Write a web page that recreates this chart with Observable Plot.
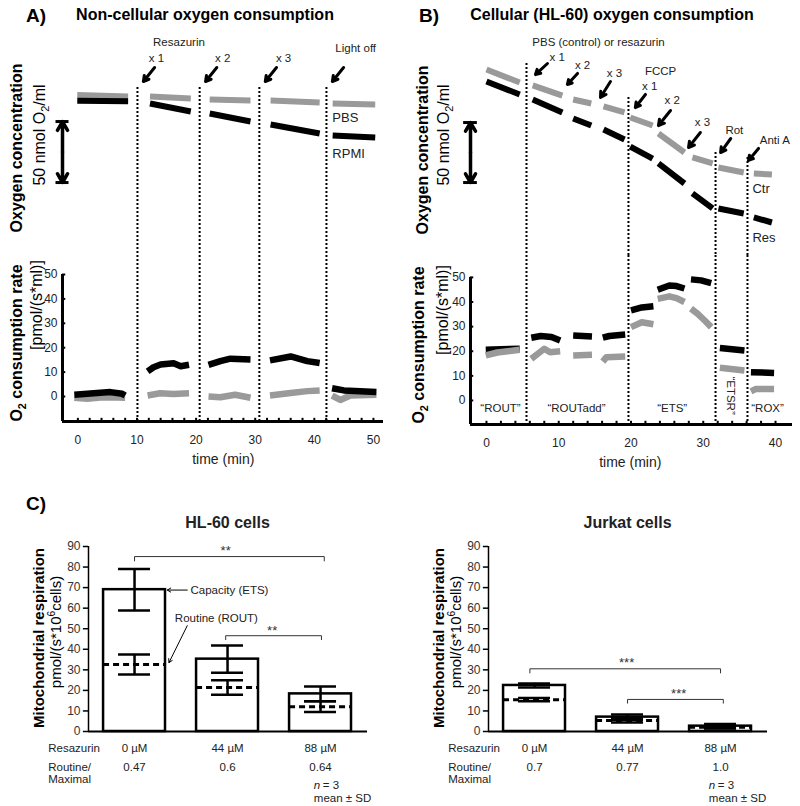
<!DOCTYPE html>
<html><head><meta charset="utf-8">
<script src="https://cdn.jsdelivr.net/npm/d3@7"></script>
<script src="https://cdn.jsdelivr.net/npm/@observablehq/plot@0.6"></script>
<style>
body{margin:0;background:#fff;font-family:"Liberation Sans",Arial,Helvetica,sans-serif;}
#fig{position:relative;width:800px;height:806px;overflow:hidden;background:#fff;}
.lbl{position:absolute;white-space:nowrap;transform:translate(-50%,-50%);color:#000;line-height:1;}
.lbl.rot{transform:translate(-50%,-50%) rotate(-90deg);}
.lbl sub,.lbl sup{font-size:0.68em;line-height:0;}
</style></head><body><div id="fig"></div>
<script>
// ---------------- DATA ----------------
// Panel A: non-cellular (time in min, O2 in nmol/ml, rate in pmol/(s*ml)); rows: [segment, time, value]
const aDotTimes = [10.08, 20.6, 30.7, 42.05];
const aConcPBS = [
  [1,-0.1,189.6],[1,8.5,188.4],
  [2,12.2,188.3],[2,19.1,186.7],
  [3,22.3,185.9],[3,29.2,185.0],
  [4,32.6,185.0],[4,40.9,183.4],
  [5,43.1,182.6],[5,50.3,181.8]];
const aConcRPMI = [
  [1,-0.1,184.8],[1,8.5,184.4],
  [2,12.2,182.6],[2,19.1,176.0],
  [3,22.3,174.4],[3,29.2,167.8],
  [4,32.6,165.4],[4,40.9,158.0],
  [5,43.1,156.4],[5,50.3,154.7]];
const aRatePBS = [
  [1,-0.6,-0.5],[1,1.6,-0.9],[1,3.8,-0.4],[1,5.5,-0.3],[1,8.0,-0.5],
  [2,11.8,0.4],[2,13.9,1.3],[2,16.2,1.0],[2,18.8,1.3],
  [3,22.1,0.0],[3,24.1,-0.3],[3,26.6,0.7],[3,29.2,-0.5],
  [4,32.5,0.4],[4,36.0,1.4],[4,38.8,2.2],[4,40.9,2.5],
  [5,43.0,0.4],[5,44.4,-1.4],[5,46.1,0.4],[5,50.5,0.7]];
const aRateRPMI = [
  [1,-0.6,0.7],[1,1.6,1.1],[1,3.8,1.5],[1,5.5,1.8],[1,7.5,1.1],[1,8.0,0.4],
  [2,11.8,10.3],[2,12.8,12.0],[2,14.0,13.1],[2,16.2,13.6],[2,17.4,12.4],[2,18.8,13.0],
  [3,22.1,13.0],[3,24.1,14.5],[3,25.8,15.5],[3,29.2,15.2],
  [4,32.5,14.8],[4,36.0,16.4],[4,38.8,14.5],[4,40.9,13.7],
  [5,43.0,3.4],[5,45.0,2.5],[5,50.5,1.8]];
const aTimeTicks = [0,10,20,30,40,50];
const aMinorTicks = [0,2,4,6,8,10,12,14,16,18,20,22,24,26,28,30,32,34,36,38,40,42,44,46,48,50];
const aAddLabels = [["x 1",13.3],["x 2",24.5],["x 3",34.8]];

// Panel B: HL-60 cells
const bDotTimes = [5.54, 19.65, 31.7, 36.12];
const bDotTops = [197.5, 169.2, 123.3, 119.2];
const bConcCtr = [
  [1,0,192.5],[1,4.6,181.7],[2,6.4,179.2],[2,10.5,170.8],
  [3,12.0,167.5],[3,14.5,164.2],[4,16.2,161.7],[4,19.1,156.7],
  [5,19.9,152.5],[5,23.0,145.8],[6,23.8,139.2],[6,27.4,123.3],
  [7,28.5,119.2],[7,31.3,114.2],[8,32.1,110.8],[8,35.6,106.7],
  [9,37.0,105.8],[9,39.5,105.0]];
const bConcRes = [
  [1,0,182.5],[1,4.6,171.7],[2,6.4,167.5],[2,10.5,156.7],
  [3,12.0,151.7],[3,14.5,145.8],[4,16.2,142.5],[4,19.1,134.2],
  [5,19.9,128.3],[5,23.0,118.3],[6,23.8,114.2],[6,27.4,97.5],
  [7,28.5,89.2],[7,31.3,76.7],[8,32.1,76.7],[8,35.6,72.5],
  [9,37.0,69.2],[9,39.5,65.0]];
const bRateCtr = [
  [1,-0.1,18.3],[1,1.5,19.5],[1,4.6,20.6],
  [2,6.2,16.9],[2,6.8,18.3],[2,8.0,21.0],[2,8.8,19.6],[2,10.2,20.0],
  [3,12.0,18.3],[3,14.6,18.6],
  [4,16.1,15.8],[4,16.6,17.6],[4,19.2,17.9],
  [5,20.0,29.8],[5,21.5,31.8],[5,23.1,31.0],
  [6,23.7,41.3],[6,25.3,42.3],[6,26.3,41.6],[6,27.4,40.0],
  [7,28.3,37.3],[7,29.2,35.3],[7,30.2,32.5],[7,31.1,29.8],
  [8,32.3,13.3],[8,35.7,12.2],
  [9,36.6,3.7],[9,37.3,4.7],[9,39.8,4.7]];
const bRateRes = [
  [1,-0.1,20.6],[1,2.0,20.8],[1,4.6,21.0],
  [2,6.2,25.5],[2,7.5,26.2],[2,9.0,25.8],[2,10.2,24.4],
  [3,12.0,26.4],[3,14.6,26.0],
  [4,16.1,25.5],[4,17.0,26.2],[4,19.2,26.8],
  [5,20.0,36.6],[5,21.5,37.8],[5,23.1,38.3],
  [6,23.7,45.0],[6,25.3,46.7],[6,26.3,46.5],[6,27.4,45.5],
  [7,28.3,49.2],[7,29.7,48.8],[7,31.1,47.7],
  [8,32.3,21.3],[8,35.7,20.3],
  [9,36.6,11.5],[9,39.8,11.2]];
const bTimeTicks = [0,10,20,30,40];
const bMinorTicks = [0,2,4,6,8,10,12,14,16,18,20,22,24,26,28,30,32,34,36,38,40];
// arrows: [tailTime, tailO2, tipTime, tipO2]
const bArrows = [
  [8.44,197.5,6.78,188.3],[12.6,189.2,11.2,180.0],[17.16,182.5,15.78,169.2],
  [22.0,171.7,20.6,160.8],[25.47,158.3,23.8,145.8],[29.6,140.0,27.96,127.5],
  [33.8,135.0,32.4,123.3],[37.65,126.7,36.26,116.7]];
const bLabels = [
  ["PBS (control) or resazurin",15.5,215],
  ["x 1",9.8,202.5],["x 2",13.3,195.8],["x 3",17.7,189.2],
  ["FCCP",24.1,190.8],["x 1",22.6,178.3],["x 2",25.7,166.7],["x 3",29.9,148.3],
  ["Rot",34.3,141.7],["Anti A",39.9,133.3]];
const bRegions = [["\u201cROUT\u201d",1.94],["\u201cROUTadd\u201d",12.46],["\u201cETS\u201d",25.7],["\u201cROX\u201d",38.9]];

const rateTicks = [0,10,20,30,40,50];

// Panel C: mitochondrial respiration pmol/(s*10^6 cells)
const cDoses = ["0 \u00b5M","44 \u00b5M","88 \u00b5M"];
const cTicks = [0,10,20,30,40,50,60,70,80,90];
const hlETS = [69.0, 35.2, 18.3];
const hlETSsd = [10.1, 6.6, 3.6];
const hlROUT = [32.6, 21.4, 12.1];
const hlROUTsd = [4.9, 3.5, 2.6];
const hlRatio = ["0.47","0.6","0.64"];
const hlBrackets = [[0, 2.04, 85.1, 83.0],[0.98, 2.01, 46.6, 44.7]];
const hlStars = [["**",0.98,88.0],["**",1.48,49.1]];
const juETS = [22.4, 7.0, 2.6];
const juETSsd = [1.0, 1.3, 1.0];
const juROUT = [15.5, 5.4, 2.1];
const juROUTsd = [0.8, 1.0, 0.6];
const juRatio = ["0.7","0.77","1.0"];
const juBrackets = [[-0.05, 2.0, 30.5, 28.5],[1.0, 2.03, 15.6, 13.8]];
const juStars = [["***",0.99,33.2],["***",1.55,18.3]];

// ---------------- HELPERS ----------------
const FONT = '"Liberation Sans", Arial, Helvetica, sans-serif';
const fig = document.getElementById("fig");
const rows = arr => arr.map(([s,t,v]) => ({s,t,v}));
function put(node, left, top, w, h){
  const d = document.createElement("div");
  d.style.cssText = `position:absolute;left:${left}px;top:${top}px;width:${w}px;height:${h}px;`;
  d.appendChild(node); fig.appendChild(d);
}
function label(html, cx, cy, size, bold, rot){
  const d = document.createElement("div");
  d.className = "lbl" + (rot ? " rot" : "");
  d.style.left = cx + "px"; d.style.top = cy + "px";
  d.style.fontSize = size + "px"; d.style.fontWeight = bold ? "bold" : "normal";
  d.innerHTML = html; fig.appendChild(d);
}
const baseStyle = {fontFamily: FONT, overflow: "visible", background: "transparent", color: "#000"};
const DOT = {stroke:"#000", strokeWidth:2, strokeDasharray:"2,2"};
const GRAY = "#9a9a9a";
const RW = 6.5;

// ---------------- PANEL A ----------------
const AX0 = -2.6, AX1 = 51.7;
const aTop = Plot.plot({
  width:400, height:255, marginLeft:62, marginRight:17, marginTop:87, marginBottom:0,
  x:{domain:[AX0,AX1], axis:null}, y:{domain:[58,195.7], axis:null}, style: baseStyle,
  marks:[
    Plot.ruleX(aDotTimes, {x:d=>d, ...DOT}),
    Plot.line(rows(aConcPBS), {x:"t", y:"v", z:"s", stroke:GRAY, strokeWidth:6, strokeLinecap:"butt"}),
    Plot.line(rows(aConcRPMI), {x:"t", y:"v", z:"s", stroke:"#000", strokeWidth:6, strokeLinecap:"butt"}),
    Plot.arrow([{a:142.8,b:167.8},{a:142.8,b:117.8}], {x1:AX0, x2:AX0, y1:"a", y2:"b", stroke:"#000", strokeWidth:3.5, headLength:11}),
    Plot.ruleY([167.8,117.8], {y:d=>d, x1:AX0-1.1, x2:AX0+1.1, stroke:"#000", strokeWidth:3}),
    Plot.arrow(aDotTimes, {x1:d=>d+2.9, y1:212.1, x2:d=>d+1.0, y2:200.6, stroke:"#000", strokeWidth:3, headLength:9}),
    Plot.text(["Resazurin"], {x:17.1, y:232.6, text:d=>d, fontSize:11.5, fill:"#222"}),
    Plot.text(aAddLabels, {x:d=>d[1], y:219.5, text:d=>d[0], fontSize:11.5, fill:"#222"}),
    Plot.text(["Light off"], {x:47.0, y:227.7, text:d=>d, fontSize:11.5, fill:"#222"}),
    Plot.text(["PBS"], {x:43.05, y:171.1, text:d=>d, fontSize:13, textAnchor:"start", fill:"#222"}),
    Plot.text(["RPMI"], {x:43.05, y:141.6, text:d=>d, fontSize:13, textAnchor:"start", fill:"#222"})
  ]
});
put(aTop, 0, 0, 400, 255);

const AY0 = -10.25;
const aRate = Plot.plot({
  width:400, height:215, marginLeft:62, marginRight:17, marginTop:0, marginBottom:49,
  x:{domain:[AX0,AX1], axis:null}, y:{domain:[AY0,57.8], axis:null}, style: baseStyle,
  marks:[
    Plot.ruleX(aDotTimes, {x:d=>d, ...DOT}),
    Plot.ruleX([AX0], {x:d=>d, y1:AY0, y2:50, stroke:"#000", strokeWidth:3}),
    Plot.ruleY([AY0], {y:d=>d, x1:AX0, x2:AX1, stroke:"#000", strokeWidth:3}),
    Plot.ruleY(rateTicks, {y:d=>d, x1:AX0, x2:AX0+0.55, stroke:"#000", strokeWidth:2}),
    Plot.ruleX(aMinorTicks, {x:d=>d, y1:AY0, y2:AY0+1.3, stroke:"#000", strokeWidth:2}),
    Plot.text(rateTicks, {x:AX0, y:d=>d, dx:-5, text:d=>String(d), textAnchor:"end", fontSize:12, fill:"#222"}),
    Plot.text(aTimeTicks, {x:d=>d, y:AY0, dy:19, text:d=>String(d), fontSize:12, fill:"#222"}),
    Plot.text(["time (min)"], {x:24.6, y:AY0, dy:38, text:d=>d, fontSize:14, fill:"#222"}),
    Plot.line(rows(aRatePBS), {x:"t", y:"v", z:"s", stroke:GRAY, strokeWidth:RW, strokeLinecap:"butt"}),
    Plot.line(rows(aRateRPMI), {x:"t", y:"v", z:"s", stroke:"#000", strokeWidth:RW, strokeLinecap:"butt"})
  ]
});
put(aRate, 0, 255, 400, 215);

// ---------------- PANEL B ----------------
const BX0 = -2.21, BX1 = 42.35;
const bTop = Plot.plot({
  width:400, height:255, marginLeft:70, marginRight:8, marginTop:60, marginBottom:0,
  x:{domain:[BX0,BX1], axis:null}, y:{domain:[37.5,200], axis:null}, style: baseStyle,
  marks:[
    Plot.ruleX(bDotTimes, {x:d=>d, y1:(d,i)=>bDotTops[i], y2:37.5, ...DOT}),
    Plot.line(rows(bConcCtr), {x:"t", y:"v", z:"s", stroke:GRAY, strokeWidth:6, strokeLinecap:"butt"}),
    Plot.line(rows(bConcRes), {x:"t", y:"v", z:"s", stroke:"#000", strokeWidth:6, strokeLinecap:"butt"}),
    Plot.arrow([{a:123.3,b:148.3},{a:123.3,b:98.3}], {x1:BX0, x2:BX0, y1:"a", y2:"b", stroke:"#000", strokeWidth:3.5, headLength:11}),
    Plot.ruleY([148.3,98.3], {y:d=>d, x1:BX0-0.95, x2:BX0+0.95, stroke:"#000", strokeWidth:3}),
    Plot.arrow(bArrows, {x1:d=>d[0], y1:d=>d[1], x2:d=>d[2], y2:d=>d[3], stroke:"#000", strokeWidth:3, headLength:9}),
    Plot.text(bLabels, {x:d=>d[1], y:d=>d[2], text:d=>d[0], fontSize:11.5, fill:"#222"}),
    Plot.text(["Ctr"], {x:36.8, y:93.3, text:d=>d, fontSize:13, textAnchor:"start", fill:"#222"}),
    Plot.text(["Res"], {x:36.8, y:52.5, text:d=>d, fontSize:13, textAnchor:"start", fill:"#222"})
  ]
});
put(bTop, 400, 0, 400, 255);

const BY0 = -9.76;
const bRate = Plot.plot({
  width:400, height:215, marginLeft:70, marginRight:8, marginTop:0, marginBottom:46,
  x:{domain:[BX0,BX1], axis:null}, y:{domain:[BY0,58.9], axis:null}, style: baseStyle,
  marks:[
    Plot.ruleX(bDotTimes, {x:d=>d, ...DOT}),
    Plot.ruleX([BX0], {x:d=>d, y1:BY0, y2:50, stroke:"#000", strokeWidth:3}),
    Plot.ruleY([BY0], {y:d=>d, x1:BX0, x2:BX1, stroke:"#000", strokeWidth:3}),
    Plot.ruleY(rateTicks, {y:d=>d, x1:BX0, x2:BX0+0.45, stroke:"#000", strokeWidth:2}),
    Plot.ruleX(bMinorTicks, {x:d=>d, y1:BY0, y2:BY0+1.3, stroke:"#000", strokeWidth:2}),
    Plot.text(rateTicks, {x:BX0, y:d=>d, dx:-5, text:d=>String(d), textAnchor:"end", fontSize:12, fill:"#222"}),
    Plot.text(bTimeTicks, {x:d=>d, y:BY0, dy:19, text:d=>String(d), fontSize:12, fill:"#222"}),
    Plot.text(["time (min)"], {x:19.9, y:BY0, dy:38, text:d=>d, fontSize:14, fill:"#222"}),
    Plot.line(rows(bRateRes), {x:"t", y:"v", z:"s", stroke:"#000", strokeWidth:RW, strokeLinecap:"butt"}),
    Plot.line(rows(bRateCtr), {x:"t", y:"v", z:"s", stroke:GRAY, strokeWidth:RW, strokeLinecap:"butt"}),
    Plot.text(bRegions, {x:d=>d[1], y:-3.25, text:d=>d[0], fontSize:11.5, fill:"#222"}),
    Plot.text(["\u201cETSR\u201d"], {x:33.8, y:2.0, text:d=>d, rotate:90, fontSize:11.5, fill:"#222"})
  ]
});
put(bRate, 400, 255, 400, 215);

// ---------------- PANEL C ----------------
function cPanel(cfg){
  const X0 = -0.495, X1 = 2.505, HW = 0.333, CW = 0.172;
  const data = [0,1,2].map(i => ({i, ets:cfg.ets[i], esd:cfg.etsSd[i], rout:cfg.rout[i], rsd:cfg.routSd[i], dose:cDoses[i], ratio:cfg.ratio[i]}));
  const caps = data.flatMap(d => [
    {i:d.i, y:d.ets-d.esd},{i:d.i, y:d.ets+d.esd},{i:d.i, y:d.rout-d.rsd},{i:d.i, y:d.rout+d.rsd}]);
  const br = cfg.brackets.flatMap((b,k) => [{k,x:b[0],y:b[3]},{k,x:b[0],y:b[2]},{k,x:b[1],y:b[2]},{k,x:b[1],y:b[3]}]);
  return Plot.plot({
    width:400, height:326, marginLeft:88, marginRight:33, marginTop:66, marginBottom:75,
    x:{domain:[X0,X1], axis:null}, y:{domain:[0,90], axis:null}, style: baseStyle,
    marks:[
      Plot.rect(data, {x1:d=>d.i-HW, x2:d=>d.i+HW, y1:0, y2:"ets", fill:"#fff", stroke:"#000", strokeWidth:2.5}),
      Plot.ruleX(data, {x:"i", y1:d=>d.ets-d.esd, y2:d=>d.ets+d.esd, stroke:"#000", strokeWidth:2.5}),
      Plot.ruleX(data, {x:"i", y1:d=>d.rout-d.rsd, y2:d=>d.rout+d.rsd, stroke:"#000", strokeWidth:2.5}),
      Plot.ruleY(caps, {y:"y", x1:d=>d.i-CW, x2:d=>d.i+CW, stroke:"#000", strokeWidth:2.5}),
      Plot.ruleY(data, {y:"rout", x1:d=>d.i-HW, x2:d=>d.i+HW, stroke:"#000", strokeWidth:3, strokeDasharray:"6,4"}),
      Plot.ruleX([X0], {x:d=>d, y1:0, y2:90, stroke:"#000", strokeWidth:1.5}),
      Plot.ruleY([0], {y:d=>d, x1:X0, x2:X1, stroke:"#000", strokeWidth:2}),
      Plot.ruleY(cTicks, {y:d=>d, x1:X0-0.055, x2:X0, stroke:"#000", strokeWidth:1.5}),
      Plot.text(cTicks, {x:X0, y:d=>d, dx:-8, text:d=>String(d), textAnchor:"end", fontSize:12, fill:"#333"}),
      Plot.line(br, {x:"x", y:"y", z:"k", stroke:"#333", strokeWidth:1}),
      Plot.text(cfg.stars, {x:d=>d[1], y:d=>d[2], text:d=>d[0], fontSize:13, fill:"#333"}),
      Plot.text([cfg.title], {x:1.0, y:101.7, text:d=>d, fontSize:16, fontWeight:"bold", fill:"#222"}),
      Plot.text(["Resazurin"], {x:-0.928, y:-8.4, text:d=>d, textAnchor:"start", fontSize:11.5, fill:"#222"}),
      Plot.text(data, {x:"i", y:-8.4, text:"dose", fontSize:11.5, fill:"#222"}),
      Plot.text(["Routine/"], {x:-0.928, y:-17.4, text:d=>d, textAnchor:"start", fontSize:11.5, fill:"#222"}),
      Plot.text(["Maximal"], {x:-0.928, y:-23.5, text:d=>d, textAnchor:"start", fontSize:11.5, fill:"#222"}),
      Plot.text(data, {x:"i", y:-17.4, text:"ratio", fontSize:11.5, fill:"#222"}),
      Plot.text(["n"], {x:cfg.nX, y:-26.3, text:d=>d, textAnchor:"start", fontStyle:"italic", fontSize:11.5, fill:"#222"}),
      Plot.text(["= 3"], {x:cfg.nX, y:-26.3, dx:9, text:d=>d, textAnchor:"start", fontSize:11.5, fill:"#222"}),
      Plot.text(["mean \u00b1 SD"], {x:cfg.nX, y:-32.7, text:d=>d, textAnchor:"start", fontSize:11.5, fill:"#222"}),
      ...(cfg.extra || [])
    ]
  });
}
const hlExtra = [
  Plot.arrow([0], {x1:0.567, y1:68.8, x2:0.352, y2:68.8, stroke:"#000", strokeWidth:1, headLength:6}),
  Plot.text(["Capacity (ETS)"], {x:0.58, y:68.6, dx:2, text:d=>d, textAnchor:"start", fontSize:11.5, fill:"#222"}),
  Plot.arrow([0], {x1:0.567, y1:51.5, x2:0.37, y2:33.5, stroke:"#000", strokeWidth:1, headLength:6}),
  Plot.text(["Routine (ROUT)"], {x:0.88, y:55.0, text:d=>d, fontSize:11.5, fill:"#222"})
];
put(cPanel({title:"HL-60 cells", ets:hlETS, etsSd:hlETSsd, rout:hlROUT, routSd:hlROUTsd, ratio:hlRatio,
  brackets:hlBrackets, stars:hlStars, nX:1.928, extra:hlExtra}), 0, 480, 400, 326);
put(cPanel({title:"Jurkat cells", ets:juETS, etsSd:juETSsd, rout:juROUT, routSd:juROUTsd, ratio:juRatio,
  brackets:juBrackets, stars:juStars, nX:1.874}), 400, 480, 400, 326);

// ---------------- HTML TEXT ----------------
label("A)", 36, 15, 19, true);
label("Non-cellular oxygen consumption", 205, 15, 16, true);
label("B)", 429, 15, 19, true);
label("Cellular (HL-60) oxygen consumption", 612, 15, 16, true);
label("C)", 36, 503, 19, true);
label("Oxygen concentration", 17, 148, 16, true, true);
label("50 nmol O<sub>2</sub>/ml", 40, 135, 16, false, true);
label("O<sub>2</sub> consumption rate", 17, 343, 16, true, true);
label("[pmol/(s*ml)]", 37, 305, 16, false, true);
label("Oxygen concentration", 423, 150, 16, true, true);
label("50 nmol O<sub>2</sub>/ml", 444, 135, 16, false, true);
label("O<sub>2</sub> consumption rate", 419, 345, 16, true, true);
label("[pmol/(s*ml)]", 443, 310, 16, false, true);
label("Mitochondrial respiration", 38, 638, 15, true, true);
label("pmol/(s*10<sup>6</sup>cells)", 55, 632, 15, false, true);
label("Mitochondrial respiration", 438, 638, 15, true, true);
label("pmol/(s*10<sup>6</sup>cells)", 455, 632, 15, false, true);
</script></body></html>
